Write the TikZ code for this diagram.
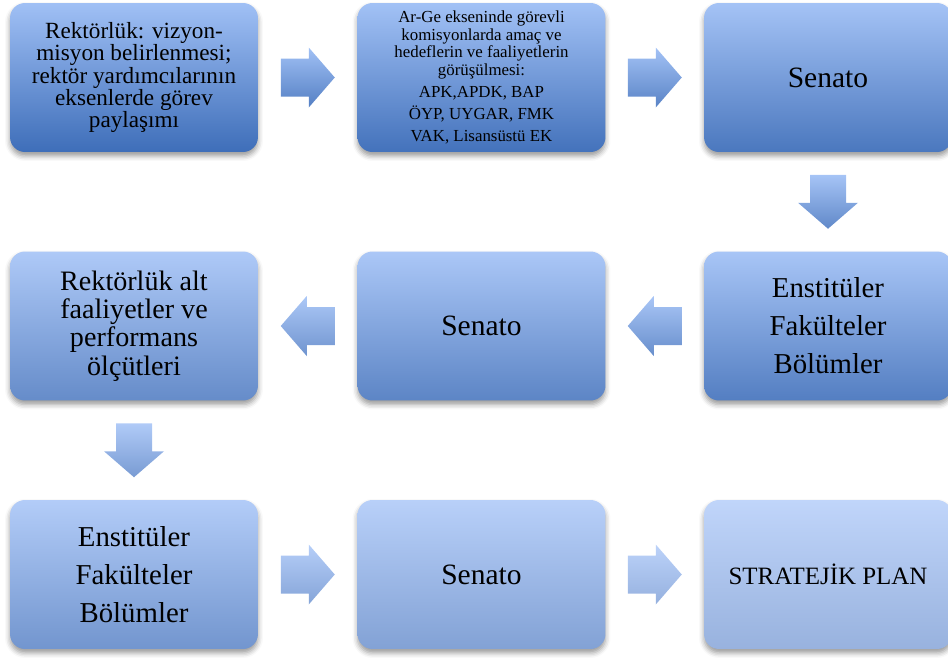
\documentclass[tikz,border=0pt]{standalone}
\usepackage{fontspec}
\setmainfont{Liberation Serif}
\usetikzlibrary{calc, shadows.blur}

\definecolor{deepblue}{RGB}{62,110,185}
\definecolor{paleblue}{RGB}{152,178,222}
\definecolor{topblue}{RGB}{160,192,245}
\definecolor{toppale}{RGB}{192,213,250}

\tikzset{
  stepbox/.style={rectangle, rounded corners=0.3cm, minimum width=4.96cm, minimum height=2.98cm,
    align=center, inner sep=2pt, top color=topblue!#1!toppale, bottom color=deepblue!#1!paleblue,
    blur shadow={shadow xshift=0pt, shadow yshift=-0.08cm, shadow blur radius=0.1cm, shadow opacity=40}},
  arrowfill/.style={top color=topblue!#1!toppale, bottom color=deepblue!#1!paleblue!85!toppale}
}

\begin{document}
\begin{tikzpicture}[x=0.02cm, y=-0.02cm]
		\useasboundingbox (0, 0) rectangle (948, 659);
		% first row
		\node(B1) at (134, 77.5)[stepbox=100, font=\fontsize{13.2}{12.6}\selectfont]{Rektörlük: vizyon-\\misyon belirlenmesi;\\rektör yardımcılarının\\eksenlerde görev\\paylaşımı};
		\node(B2) at (481.5, 77.5)[stepbox=94, font=\fontsize{9.6}{10}\selectfont]{Ar-Ge ekseninde görevli\\komisyonlarda amaç ve\\hedeflerin ve faaliyetlerin\\görüşülmesi:\\[2.6pt]APK,APDK, BAP\\[2.6pt]ÖYP, UYGAR, FMK\\[2.6pt]VAK, Lisansüstü EK};
		\node(B3) at (828, 77.5)[stepbox=86, font=\fontsize{16.8}{20}\selectfont]{Senato};
		% second row
		\node(B4) at (828, 326)[stepbox=76, font=\fontsize{16.4}{21.6}\selectfont]{Enstitüler\\Fakülteler\\Bölümler};
		\node(B5) at (481.5, 326)[stepbox=66, font=\fontsize{16.8}{20}\selectfont]{Senato};
		\node(B6) at (134, 326)[stepbox=56, font=\fontsize{16}{16.2}\selectfont]{Rektörlük alt\\faaliyetler ve\\performans\\ölçütleri};
		% third row
		\node(B7) at (134, 574.5)[stepbox=42, font=\fontsize{16.4}{21.6}\selectfont]{Enstitüler\\Fakülteler\\Bölümler};
		\node(B8) at (481.5, 574.5)[stepbox=24, font=\fontsize{16.8}{20}\selectfont]{Senato};
		\node(B9) at (828, 574.5)[stepbox=0, font=\fontsize{14.2}{16}\selectfont]{STRATEJİK PLAN};
		% block arrows between the boxes
		\shade[arrowfill=97] ($(B1.east)!0.5!(B2.west)$) ++(-27, -19)--++(28, 0)--++(0, -11)--++(26, 30)--++(-26, 30)--++(0, -11)--++(-28, 0)--cycle;
		\shade[arrowfill=90] ($(B2.east)!0.5!(B3.west)$) ++(-27, -19)--++(28, 0)--++(0, -11)--++(26, 30)--++(-26, 30)--++(0, -11)--++(-28, 0)--cycle;
		\shade[arrowfill=81] ($(B3.south)!0.5!(B4.north)$) ++(-18, -27)--++(0, 28)--++(-12, 0)--++(30, 26)--++(30, -26)--++(-12, 0)--++(0, -28)--cycle;
		\shade[arrowfill=71] ($(B4.west)!0.5!(B5.east)$) ++(27, -19)--++(-28, 0)--++(0, -11)--++(-26, 30)--++(26, 30)--++(0, -11)--++(28, 0)--cycle;
		\shade[arrowfill=61] ($(B5.west)!0.5!(B6.east)$) ++(27, -19)--++(-28, 0)--++(0, -11)--++(-26, 30)--++(26, 30)--++(0, -11)--++(28, 0)--cycle;
		\shade[arrowfill=49] ($(B6.south)!0.5!(B7.north)$) ++(-18, -27)--++(0, 28)--++(-12, 0)--++(30, 26)--++(30, -26)--++(-12, 0)--++(0, -28)--cycle;
		\shade[arrowfill=33] ($(B7.east)!0.5!(B8.west)$) ++(-27, -19)--++(28, 0)--++(0, -11)--++(26, 30)--++(-26, 30)--++(0, -11)--++(-28, 0)--cycle;
		\shade[arrowfill=12] ($(B8.east)!0.5!(B9.west)$) ++(-27, -19)--++(28, 0)--++(0, -11)--++(26, 30)--++(-26, 30)--++(0, -11)--++(-28, 0)--cycle;
		\end{tikzpicture}
\end{document}
